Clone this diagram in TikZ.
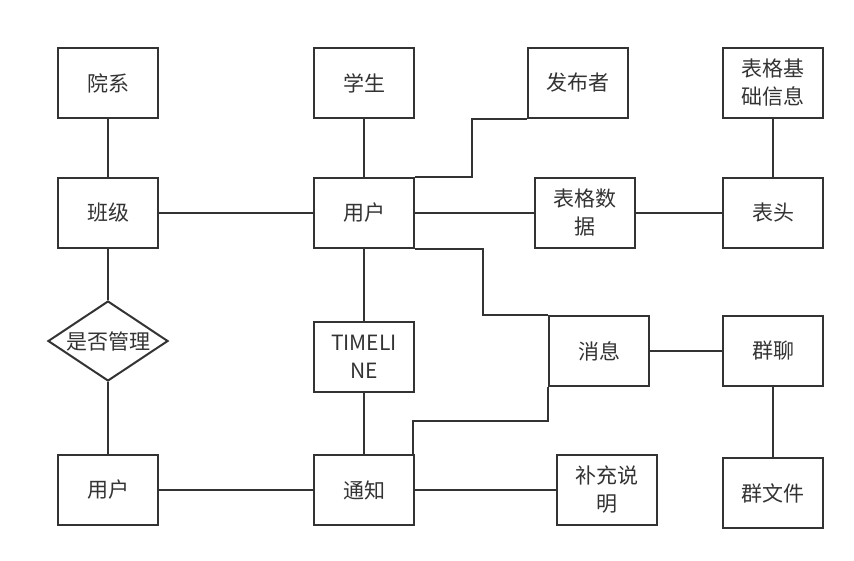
\documentclass[tikz,border=0pt]{standalone}
\usepackage{fontspec}
\setmainfont{Noto Sans CJK SC}
\usetikzlibrary{shapes.geometric}
\definecolor{ink}{HTML}{333333}
\tikzset{
  box/.style={draw=ink, line width=2pt, rectangle, minimum width=100pt, minimum height=70pt, inner sep=0pt, align=center, text=ink, font=\fontsize{21}{28}\selectfont},
  dia/.style={draw=ink, line width=2pt, diamond, aspect=1.5, minimum width=120pt, minimum height=80pt, inner sep=0pt, text=ink, font=\fontsize{21}{28}\selectfont},
  link/.style={draw=ink, line width=2pt}
}
\begin{document}
\begin{tikzpicture}[x=1pt,y=-1pt]
\useasboundingbox (0,0) rectangle (854,560);
\node[box] (yx) at (108,83) {院系};
\node[box] (xs) at (364,83) {学生};
\node[box] (fb) at (578,83) {发布者};
\node[box] (jc) at (773,83) {表格基\\础信息};
\node[box] (bj) at (108,213) {班级};
\node[box] (u1) at (364,213) {用户};
\node[box] (sj) at (585,213) {表格数\\据};
\node[box] (bt) at (773,213) {表头};
\node[dia] (gl) at (108,341) {是否管理};
\node[box] (tl) at (364,357) {TIMELI\\NE};
\node[box] (xx) at (599,351) {消息};
\node[box] (ql) at (773,351) {群聊};
\node[box] (u2) at (108,490) {用户};
\node[box] (tz) at (364,490) {通知};
\node[box] (bc) at (607,490) {补充说\\明};
\node[box] (wj) at (773,493) {群文件};
\path[link] (yx.south) -- (bj.north);
\path[link] (xs.south) -- (u1.north);
\path[link] (jc.south) -- (bt.north);
\path[link] (bj.east) -- (u1.west);
\path[link] (u1.east) -- (sj.west);
\path[link] (sj.east) -- (bt.west);
\path[link] (bj.south) -- (gl.north);
\path[link] (gl.south) -- (u2.north);
\path[link] (u1.south) -- (tl.north);
\path[link] (tl.south) -- (tz.north);
\path[link] (u2.east) -- (tz.west);
\path[link] (tz.east) -- (bc.west);
\path[link] (xx.east) -- (ql.west);
\path[link] (ql.south) -- (wj.north);
\path[link] (u1.north east) -- ++(57,0) |- (fb.south west);
\path[link] (u1.south east) -- ++(68,0) |- (xx.north west);
\path[link] (xx.south west) -- ++(0,34) -| ([xshift=-2pt]tz.north east);
\end{tikzpicture}
\end{document}
